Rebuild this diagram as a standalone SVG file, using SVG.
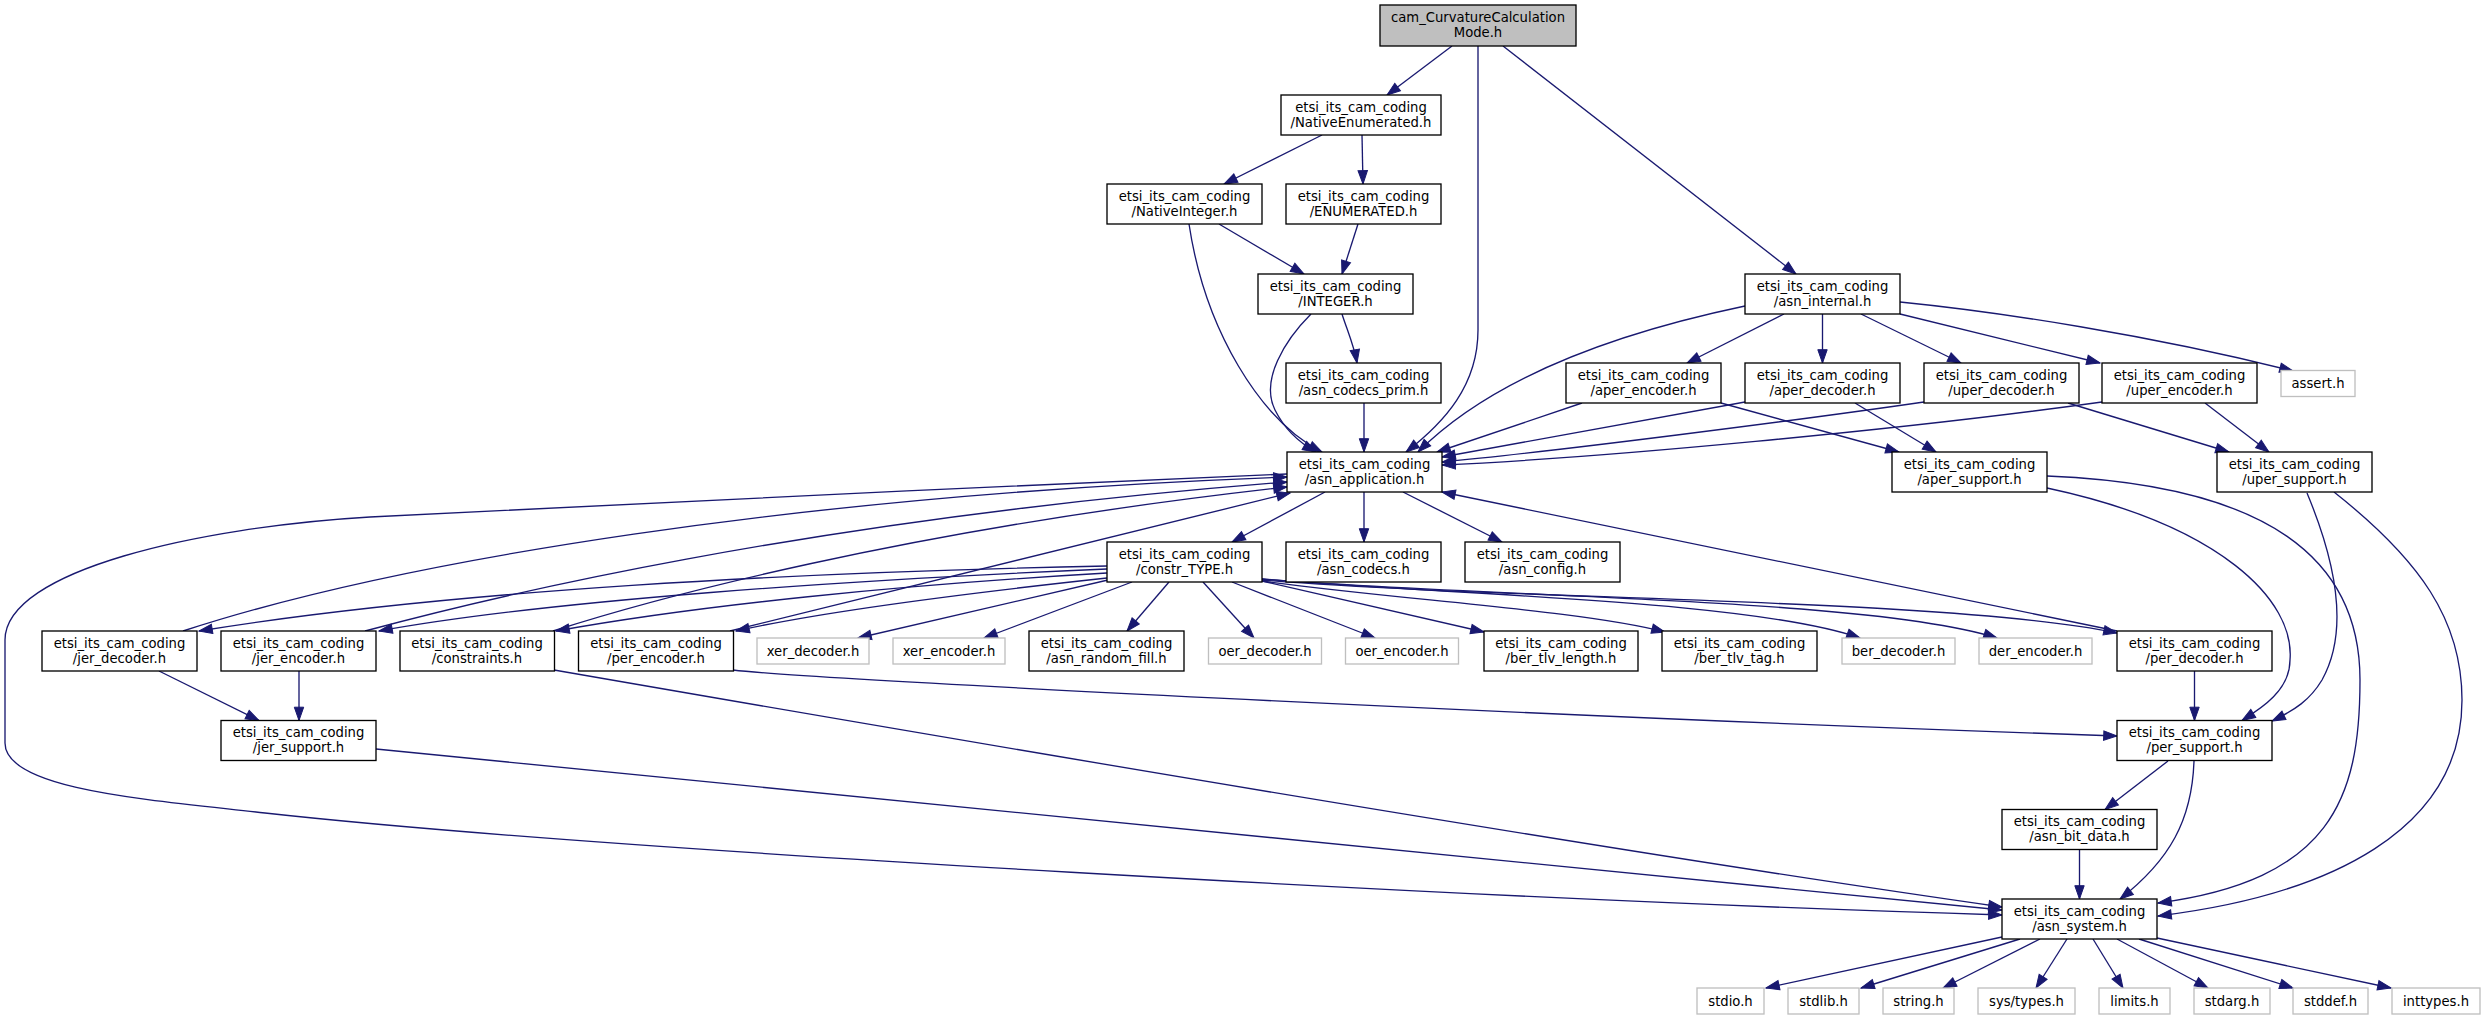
<svg xmlns="http://www.w3.org/2000/svg" width="2485" height="1020" viewBox="0 0 2485 1020">
<defs>
<style>
text{font-family:"DejaVu Sans","Liberation Sans",sans-serif;font-size:13.2px;text-anchor:middle;fill:#000}
.n rect{fill:#fff;stroke:#000;stroke-width:1.33}
.x rect{fill:#fff;stroke:#bfbfbf;stroke-width:1.33}
.r rect{fill:#bfbfbf;stroke:#000;stroke-width:1.33}
#edges path{fill:none;stroke:#191970;stroke-width:1.33;marker-end:url(#a)}
</style>
<marker id="a" markerUnits="userSpaceOnUse" markerWidth="16" markerHeight="12" refX="13.3" refY="4.7" orient="auto" overflow="visible">
<path d="M0,0 L13.3,4.7 L0,9.4 z" fill="#191970" stroke="#191970" stroke-width="1"/>
</marker>
</defs>
<rect width="2485" height="1020" fill="#fff"/>
<g id="edges">
<path d="M1452,46 L1387,95"/>
<path d="M1478,46 L1478,330 C1478,385 1445,422 1406,452"/>
<path d="M1503,46 L1796,274"/>
<path d="M1322,135 L1224,184"/>
<path d="M1362,135 L1363,184"/>
<path d="M1219,224 L1304,274"/>
<path d="M1189,224 C1205,330 1260,420 1322,452"/>
<path d="M1358,224 L1342,274"/>
<path d="M1311,314 C1285,340 1260,380 1275,410 C1285,430 1298,442 1316,452"/>
<path d="M1342,314 C1347,330 1354,345 1357,363"/>
<path d="M1364,403 L1364,452"/>
<path d="M1745,306 C1640,328 1500,370 1418,452"/>
<path d="M1784,314 L1687,363"/>
<path d="M1822.5,314 L1822.5,363"/>
<path d="M1861,314 L1961,363"/>
<path d="M1900,314 L2100,363"/>
<path d="M1900,302 C2000,312 2150,335 2293,371"/>
<path d="M1582,403 L1437,452"/>
<path d="M1721,403 L1899,452"/>
<path d="M1745,402 L1442,457"/>
<path d="M1855,403 L1936,452"/>
<path d="M1924,402 C1800,420 1550,452 1442,462"/>
<path d="M2068,403 L2229,452"/>
<path d="M2102,402 C1900,430 1600,458 1442,465"/>
<path d="M2205,403 L2269,452"/>
<path d="M1325,492 L1232,542"/>
<path d="M1364,492 L1364,542"/>
<path d="M1403,492 L1502,542"/>
<path d="M1287,474 C1000,486 600,505 370,517 C200,527 5,570 5,640 L5,743 C5,790 150,800 265,813 C600,850 1500,900 2002,915"/>
<path d="M183,631 C400,560 800,495 1287,477"/>
<path d="M365,631 C480,600 800,520 1287,482"/>
<path d="M553,631 C650,600 900,530 1287,487"/>
<path d="M730,631 L1290,493"/>
<path d="M2117,631 L1442,492"/>
<path d="M1107,566 C800,572 450,590 199,631"/>
<path d="M1107,569 C850,580 550,600 379,631"/>
<path d="M1107,573 C900,585 700,605 556,631"/>
<path d="M1107,578 C950,595 820,612 736,631"/>
<path d="M1108,580 L858,638"/>
<path d="M1132,582 L984,638"/>
<path d="M1169,582 L1127,631"/>
<path d="M1203,582 L1254,638"/>
<path d="M1232,582 L1375,638"/>
<path d="M1262,581 L1484,632"/>
<path d="M1262,581 C1400,600 1580,610 1665,632"/>
<path d="M1262,579 C1450,595 1750,600 1860,638"/>
<path d="M1262,579 C1500,598 1870,598 1997,638"/>
<path d="M1262,580 C1500,600 1950,598 2117,633"/>
<path d="M159,671 L259,720.5"/>
<path d="M299,671 L299,720.5"/>
<path d="M376,749 L2002,910"/>
<path d="M554,670 C900,730 1600,850 2002,907"/>
<path d="M733,670 C800,678 1500,715 2117,736"/>
<path d="M2194.5,671 L2194.5,720.5"/>
<path d="M2047,488 C2220,525 2295,600 2290,660 C2290,690 2262,708 2242,720.5"/>
<path d="M2047,476 C2270,485 2360,560 2360,680 C2360,800 2330,880 2158,903"/>
<path d="M2307,493 C2335,560 2350,630 2322,680 C2310,700 2295,710 2272,721"/>
<path d="M2334,492 C2420,560 2462,620 2462,700 C2462,830 2330,895 2158,916"/>
<path d="M2168,761 L2105,809.5"/>
<path d="M2194,761 C2192,820 2170,860 2120,899"/>
<path d="M2079.5,850 L2079.5,899"/>
<path d="M2002,937 L1766,988"/>
<path d="M2020,939 L1861,988"/>
<path d="M2040,939 L1943,988"/>
<path d="M2067,939 L2036,988"/>
<path d="M2093,939 L2123,988"/>
<path d="M2117,939 L2208,988"/>
<path d="M2139,939 L2293,988"/>
<path d="M2157,938 L2391,988"/>
</g>
<g id="n_top" class="r"><rect x="1380" y="5" width="196" height="41"/><text x="1478" y="22">cam_CurvatureCalculation</text><text x="1478" y="37">Mode.h</text></g>
<g id="n_NativeEnumerated" class="n"><rect x="1281" y="95" width="160" height="40"/><text x="1361" y="111.7">etsi_its_cam_coding</text><text x="1361" y="126.7">/NativeEnumerated.h</text></g>
<g id="n_NativeInteger" class="n"><rect x="1107" y="184" width="155" height="40"/><text x="1184.5" y="200.7">etsi_its_cam_coding</text><text x="1184.5" y="215.7">/NativeInteger.h</text></g>
<g id="n_ENUMERATED" class="n"><rect x="1286" y="184" width="155" height="40"/><text x="1363.5" y="200.7">etsi_its_cam_coding</text><text x="1363.5" y="215.7">/ENUMERATED.h</text></g>
<g id="n_INTEGER" class="n"><rect x="1258" y="274" width="155" height="40"/><text x="1335.5" y="290.7">etsi_its_cam_coding</text><text x="1335.5" y="305.7">/INTEGER.h</text></g>
<g id="n_asn_internal" class="n"><rect x="1745" y="274" width="155" height="40"/><text x="1822.5" y="290.7">etsi_its_cam_coding</text><text x="1822.5" y="305.7">/asn_internal.h</text></g>
<g id="n_asn_codecs_prim" class="n"><rect x="1286" y="363" width="155" height="40"/><text x="1363.5" y="379.7">etsi_its_cam_coding</text><text x="1363.5" y="394.7">/asn_codecs_prim.h</text></g>
<g id="n_aper_encoder" class="n"><rect x="1566" y="363" width="155" height="40"/><text x="1643.5" y="379.7">etsi_its_cam_coding</text><text x="1643.5" y="394.7">/aper_encoder.h</text></g>
<g id="n_aper_decoder" class="n"><rect x="1745" y="363" width="155" height="40"/><text x="1822.5" y="379.7">etsi_its_cam_coding</text><text x="1822.5" y="394.7">/aper_decoder.h</text></g>
<g id="n_uper_decoder" class="n"><rect x="1924" y="363" width="155" height="40"/><text x="2001.5" y="379.7">etsi_its_cam_coding</text><text x="2001.5" y="394.7">/uper_decoder.h</text></g>
<g id="n_uper_encoder" class="n"><rect x="2102" y="363" width="155" height="40"/><text x="2179.5" y="379.7">etsi_its_cam_coding</text><text x="2179.5" y="394.7">/uper_encoder.h</text></g>
<g id="n_assert" class="x"><rect x="2281" y="370.5" width="74" height="26"/><text x="2318" y="388">assert.h</text></g>
<g id="n_asn_application" class="n"><rect x="1287" y="452" width="155" height="40"/><text x="1364.5" y="468.7">etsi_its_cam_coding</text><text x="1364.5" y="483.7">/asn_application.h</text></g>
<g id="n_aper_support" class="n"><rect x="1892" y="452" width="155" height="40"/><text x="1969.5" y="468.7">etsi_its_cam_coding</text><text x="1969.5" y="483.7">/aper_support.h</text></g>
<g id="n_uper_support" class="n"><rect x="2217" y="452" width="155" height="40"/><text x="2294.5" y="468.7">etsi_its_cam_coding</text><text x="2294.5" y="483.7">/uper_support.h</text></g>
<g id="n_constr_TYPE" class="n"><rect x="1107" y="542" width="155" height="40"/><text x="1184.5" y="558.7">etsi_its_cam_coding</text><text x="1184.5" y="573.7">/constr_TYPE.h</text></g>
<g id="n_asn_codecs" class="n"><rect x="1286" y="542" width="155" height="40"/><text x="1363.5" y="558.7">etsi_its_cam_coding</text><text x="1363.5" y="573.7">/asn_codecs.h</text></g>
<g id="n_asn_config" class="n"><rect x="1465" y="542" width="155" height="40"/><text x="1542.5" y="558.7">etsi_its_cam_coding</text><text x="1542.5" y="573.7">/asn_config.h</text></g>
<g id="n_jer_decoder" class="n"><rect x="42" y="631" width="155" height="40"/><text x="119.5" y="647.7">etsi_its_cam_coding</text><text x="119.5" y="662.7">/jer_decoder.h</text></g>
<g id="n_jer_encoder" class="n"><rect x="221" y="631" width="155" height="40"/><text x="298.5" y="647.7">etsi_its_cam_coding</text><text x="298.5" y="662.7">/jer_encoder.h</text></g>
<g id="n_constraints" class="n"><rect x="400" y="631" width="154.5" height="40"/><text x="477" y="647.7">etsi_its_cam_coding</text><text x="477" y="662.7">/constraints.h</text></g>
<g id="n_per_encoder" class="n"><rect x="578.5" y="631" width="155" height="40"/><text x="656" y="647.7">etsi_its_cam_coding</text><text x="656" y="662.7">/per_encoder.h</text></g>
<g id="n_xer_decoder" class="x"><rect x="757" y="638" width="112" height="26"/><text x="813" y="655.5">xer_decoder.h</text></g>
<g id="n_xer_encoder" class="x"><rect x="893" y="638" width="112" height="26"/><text x="949" y="655.5">xer_encoder.h</text></g>
<g id="n_asn_random_fill" class="n"><rect x="1029" y="631" width="155" height="40"/><text x="1106.5" y="647.7">etsi_its_cam_coding</text><text x="1106.5" y="662.7">/asn_random_fill.h</text></g>
<g id="n_oer_decoder" class="x"><rect x="1208.5" y="638" width="113" height="26"/><text x="1265" y="655.5">oer_decoder.h</text></g>
<g id="n_oer_encoder" class="x"><rect x="1345.5" y="638" width="113" height="26"/><text x="1402" y="655.5">oer_encoder.h</text></g>
<g id="n_ber_tlv_length" class="n"><rect x="1484" y="631" width="154" height="40"/><text x="1561" y="647.7">etsi_its_cam_coding</text><text x="1561" y="662.7">/ber_tlv_length.h</text></g>
<g id="n_ber_tlv_tag" class="n"><rect x="1662" y="631" width="155" height="40"/><text x="1739.5" y="647.7">etsi_its_cam_coding</text><text x="1739.5" y="662.7">/ber_tlv_tag.h</text></g>
<g id="n_ber_decoder" class="x"><rect x="1842" y="638" width="113" height="26"/><text x="1898.5" y="655.5">ber_decoder.h</text></g>
<g id="n_der_encoder" class="x"><rect x="1979" y="638" width="113" height="26"/><text x="2035.5" y="655.5">der_encoder.h</text></g>
<g id="n_per_decoder" class="n"><rect x="2117" y="631" width="155" height="40"/><text x="2194.5" y="647.7">etsi_its_cam_coding</text><text x="2194.5" y="662.7">/per_decoder.h</text></g>
<g id="n_jer_support" class="n"><rect x="221" y="720.5" width="155" height="40"/><text x="298.5" y="737.2">etsi_its_cam_coding</text><text x="298.5" y="752.2">/jer_support.h</text></g>
<g id="n_per_support" class="n"><rect x="2117" y="720.5" width="155" height="40"/><text x="2194.5" y="737.2">etsi_its_cam_coding</text><text x="2194.5" y="752.2">/per_support.h</text></g>
<g id="n_asn_bit_data" class="n"><rect x="2002" y="809.5" width="155" height="40"/><text x="2079.5" y="826.2">etsi_its_cam_coding</text><text x="2079.5" y="841.2">/asn_bit_data.h</text></g>
<g id="n_asn_system" class="n"><rect x="2002" y="899" width="155" height="40"/><text x="2079.5" y="915.7">etsi_its_cam_coding</text><text x="2079.5" y="930.7">/asn_system.h</text></g>
<g id="n_stdio" class="x"><rect x="1697" y="988" width="67" height="26"/><text x="1730.5" y="1005.5">stdio.h</text></g>
<g id="n_stdlib" class="x"><rect x="1788" y="988" width="71" height="26"/><text x="1823.5" y="1005.5">stdlib.h</text></g>
<g id="n_string" class="x"><rect x="1883" y="988" width="71" height="26"/><text x="1918.5" y="1005.5">string.h</text></g>
<g id="n_systypes" class="x"><rect x="1978" y="988" width="97" height="26"/><text x="2026.5" y="1005.5">sys/types.h</text></g>
<g id="n_limits" class="x"><rect x="2099" y="988" width="71" height="26"/><text x="2134.5" y="1005.5">limits.h</text></g>
<g id="n_stdarg" class="x"><rect x="2194" y="988" width="76" height="26"/><text x="2232" y="1005.5">stdarg.h</text></g>
<g id="n_stddef" class="x"><rect x="2293" y="988" width="75" height="26"/><text x="2330.5" y="1005.5">stddef.h</text></g>
<g id="n_inttypes" class="x"><rect x="2392" y="988" width="88" height="26"/><text x="2436" y="1005.5">inttypes.h</text></g>
</svg>
